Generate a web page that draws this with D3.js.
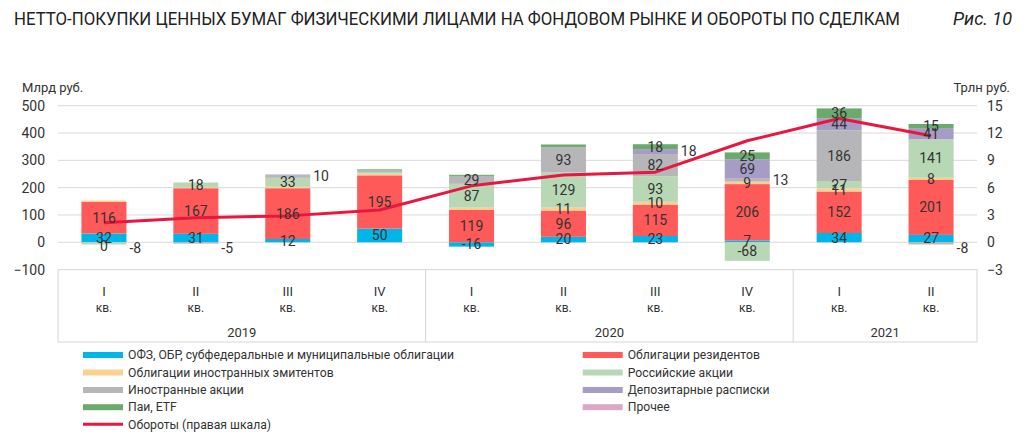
<!DOCTYPE html>
<html><head><meta charset="utf-8">
<script src="https://cdn.jsdelivr.net/npm/d3@7"></script>
<style>
html,body{margin:0;padding:0;background:#fff;}
svg{display:block;font-family:Roboto,"Open Sans",sans-serif;}
</style></head>
<body><svg id="chart" width="1024" height="436"></svg>
<script>
// ---- data ----
const quarters = ["I","II","III","IV","I","II","III","IV","I","II"];
const years = ["2019","2020","2021"];
const yearOfQuarter = ["2019","2019","2019","2019","2020","2020","2020","2020","2021","2021"];
const ofz        = [32, 31, 12, 50, -16, 20, 23, 7, 34, 27];
const resBonds   = [116, 167, 186, 195, 119, 96, 115, 206, 152, 201];
const forBonds   = [5, 3, 5, 6, 8, 11, 10, 9, 11, 8];
const rusShares  = [-8, 18, 33, 6, 87, 129, 93, -68, 27, 141];
const forShares  = [0, -5, 10, 6, 29, 93, 82, 13, 186, -8];
const depReceipts= [0, 0, 2, 0, 0, 0, 18, 69, 44, 41];
const etf        = [0, 0, 0, 4, 4, 9, 18, 25, 36, 15];
const other      = [0, 0, 0, 0, 0, 0, 0, 0, 0, 0];
const turnover   = [2.15, 2.7, 2.9, 3.55, 6.2, 7.4, 7.7, 11.15, 13.6, 11.7];
const leftTicks  = [-100, 0, 100, 200, 300, 400, 500];
const rightTicks = [-3, 0, 3, 6, 9, 12, 15];

const seriesDefs = [
  {key:"ofz", name:"ОФЗ, ОБР, субфедеральные и муниципальные облигации", values:ofz, color:"#00b6e8"},
  {key:"resBonds", name:"Облигации резидентов", values:resBonds, color:"#ff5a5a"},
  {key:"forBonds", name:"Облигации иностранных эмитентов", values:forBonds, color:"#fcd090"},
  {key:"rusShares", name:"Российские акции", values:rusShares, color:"#b7d7b5"},
  {key:"forShares", name:"Иностранные акции", values:forShares, color:"#b6b6b8"},
  {key:"depReceipts", name:"Депозитарные расписки", values:depReceipts, color:"#a79cc5"},
  {key:"etf", name:"Паи, ETF", values:etf, color:"#6aaa6c"},
  {key:"other", name:"Прочее", values:other, color:"#dda7c6"}
];
// label annotations
const outsideLabels = [["rusShares",0],["forShares",1],["forShares",2],["depReceipts",6],["forShares",7],["forShares",9]];
const hiddenLabels  = [["forBonds",4],["etf",5]];
const forcedLabels  = [["forShares",0]];
const has = (list,k,i)=>list.some(d=>d[0]===k&&d[1]===i);

// ---- layout ----
const svg = d3.select("#chart");
const L = 58, R = 977, T = 105.7, B = 269.6, boxBottom = 342;
const idx = d3.range(quarters.length);
const x = d3.scaleBand().domain(idx).range([L,R]).paddingInner(0.51).paddingOuter(0.255);
const y = d3.scaleLinear().domain([-100,500]).range([B,T]);
const y2 = d3.scaleLinear().domain([-3,15]).range([B,T]);

// title
svg.append("text").attr("x",14).attr("y",25).attr("font-size",18).attr("fill","#222")
  .attr("textLength",886).attr("lengthAdjust","spacingAndGlyphs")
  .text("НЕТТО-ПОКУПКИ ЦЕННЫХ БУМАГ ФИЗИЧЕСКИМИ ЛИЦАМИ НА ФОНДОВОМ РЫНКЕ И ОБОРОТЫ ПО СДЕЛКАМ");
svg.append("text").attr("x",1012).attr("y",25).attr("text-anchor","end").attr("font-size",18)
  .attr("font-style","italic").attr("fill","#222").text("Рис. 10");

// units
svg.append("text").attr("x",22).attr("y",92).attr("font-size",13).attr("fill","#333").text("Млрд руб.");
svg.append("text").attr("x",1010).attr("y",92).attr("text-anchor","end").attr("font-size",13).attr("fill","#333").text("Трлн руб.");

// gridlines
svg.append("g").selectAll("line").data(leftTicks.filter(t=>t!==-100)).join("line")
  .attr("x1",L).attr("x2",R).attr("y1",d=>y(d)).attr("y2",d=>y(d))
  .attr("stroke","#d9d9d9").attr("stroke-width",1);

// left axis
const ga = svg.append("g").attr("transform",`translate(${L},0)`)
  .call(d3.axisLeft(y).tickValues(leftTicks).tickSize(0).tickPadding(13));
ga.select(".domain").remove();
ga.selectAll("text").attr("font-size",14).attr("fill","#333").attr("font-family","Roboto,sans-serif");
// right axis
const gb = svg.append("g").attr("transform",`translate(${R},0)`)
  .call(d3.axisRight(y2).tickValues(rightTicks).tickSize(0).tickPadding(10));
gb.select(".domain").remove();
gb.selectAll("text").attr("font-size",14).attr("fill","#333").attr("font-family","Roboto,sans-serif");

// category box
const box = svg.append("g");
box.append("rect").attr("x",L).attr("y",B).attr("width",R-L).attr("height",boxBottom-B)
  .attr("fill","none").attr("stroke","#d6d6d6");
years.forEach((yr,yi)=>{
  const qs = idx.filter(i=>yearOfQuarter[i]===yr);
  const x0 = x(qs[0]) - x.step()*x.paddingInner()/2;
  const x1 = x(qs[qs.length-1]) + x.bandwidth() + x.step()*x.paddingInner()/2;
  if (yi>0) box.append("line").attr("x1",x0).attr("x2",x0).attr("y1",B).attr("y2",boxBottom).attr("stroke","#d6d6d6");
  box.append("text").attr("x",(x0+x1)/2).attr("y",337).attr("text-anchor","middle")
    .attr("font-size",13).attr("fill","#333").text(yr);
});
idx.forEach(i=>{
  const cx = x(i)+x.bandwidth()/2;
  box.append("text").attr("x",cx).attr("y",296).attr("text-anchor","middle").attr("font-size",13).attr("fill","#333").text(quarters[i]);
  box.append("text").attr("x",cx).attr("y",312).attr("text-anchor","middle").attr("font-size",12).attr("fill","#333").text("кв.");
});

// stacked bars
const table = idx.map(i=>{const o={i}; seriesDefs.forEach(s=>o[s.key]=s.values[i]); return o;});
const stack = d3.stack().keys(seriesDefs.map(s=>s.key)).offset(d3.stackOffsetDiverging);
const stacked = stack(table);
const barG = svg.append("g");
stacked.forEach((layer,si)=>{
  barG.append("g").attr("fill",seriesDefs[si].color).selectAll("rect").data(layer).join("rect")
    .attr("x",d=>x(d.data.i)).attr("width",x.bandwidth())
    .attr("y",d=>y(Math.max(d[0],d[1]))).attr("height",d=>Math.abs(y(d[0])-y(d[1])));
});

// turnover line
const line = d3.line().x((d,i)=>x(i)+x.bandwidth()/2).y(d=>y2(d));
svg.append("path").datum(turnover).attr("d",line).attr("fill","none")
  .attr("stroke","#e8173f").attr("stroke-width",3).attr("stroke-linejoin","round");

// labels
const lblG = svg.append("g").attr("font-size",14).attr("fill","#333");
stacked.forEach((layer,si)=>{
  const k = seriesDefs[si].key;
  layer.forEach(d=>{
    const i = d.data.i, v = d.data[k];
    let show = Math.abs(v)>=7 || has(forcedLabels,k,i);
    if (has(hiddenLabels,k,i)) show=false;
    const outside = has(outsideLabels,k,i);
    if (!show && !outside) return;
    let cy = (y(d[0])+y(d[1]))/2;
    if (v===0) cy = y(0)+4;
    let cx = x(i)+x.bandwidth()/2, anchor="middle";
    if (outside){ cx = x(i)+x.bandwidth()+3; anchor="start"; if (v<0) cy = y(0)+6; }
    lblG.append("text").attr("x",cx).attr("y",cy).attr("dy","0.35em").attr("text-anchor",anchor).text(v);
  });
});

// legend
const legendItems = [
  {col:0,row:0,s:0},{col:1,row:0,s:1},{col:0,row:1,s:2},{col:1,row:1,s:3},
  {col:0,row:2,s:4},{col:1,row:2,s:5},{col:0,row:3,s:6},{col:1,row:3,s:7}
];
const lg = svg.append("g");
const colX = [83, 582.7], rowY = [355, 372.5, 390, 407.2, 424.3];
legendItems.forEach(it=>{
  const s = seriesDefs[it.s];
  lg.append("rect").attr("x",colX[it.col]).attr("y",rowY[it.row]-3).attr("width",40).attr("height",6).attr("fill",s.color);
  lg.append("text").attr("x",colX[it.col]+45).attr("y",rowY[it.row]).attr("dy","0.35em")
    .attr("font-size",12.2).attr("fill","#333").text(s.name);
});
lg.append("line").attr("x1",colX[0]).attr("x2",colX[0]+40).attr("y1",rowY[4]).attr("y2",rowY[4])
  .attr("stroke","#e8173f").attr("stroke-width",3);
lg.append("text").attr("x",colX[0]+45).attr("y",rowY[4]).attr("dy","0.35em").attr("font-size",12.2).attr("fill","#333").text("Обороты (правая шкала)");
</script></body></html>
